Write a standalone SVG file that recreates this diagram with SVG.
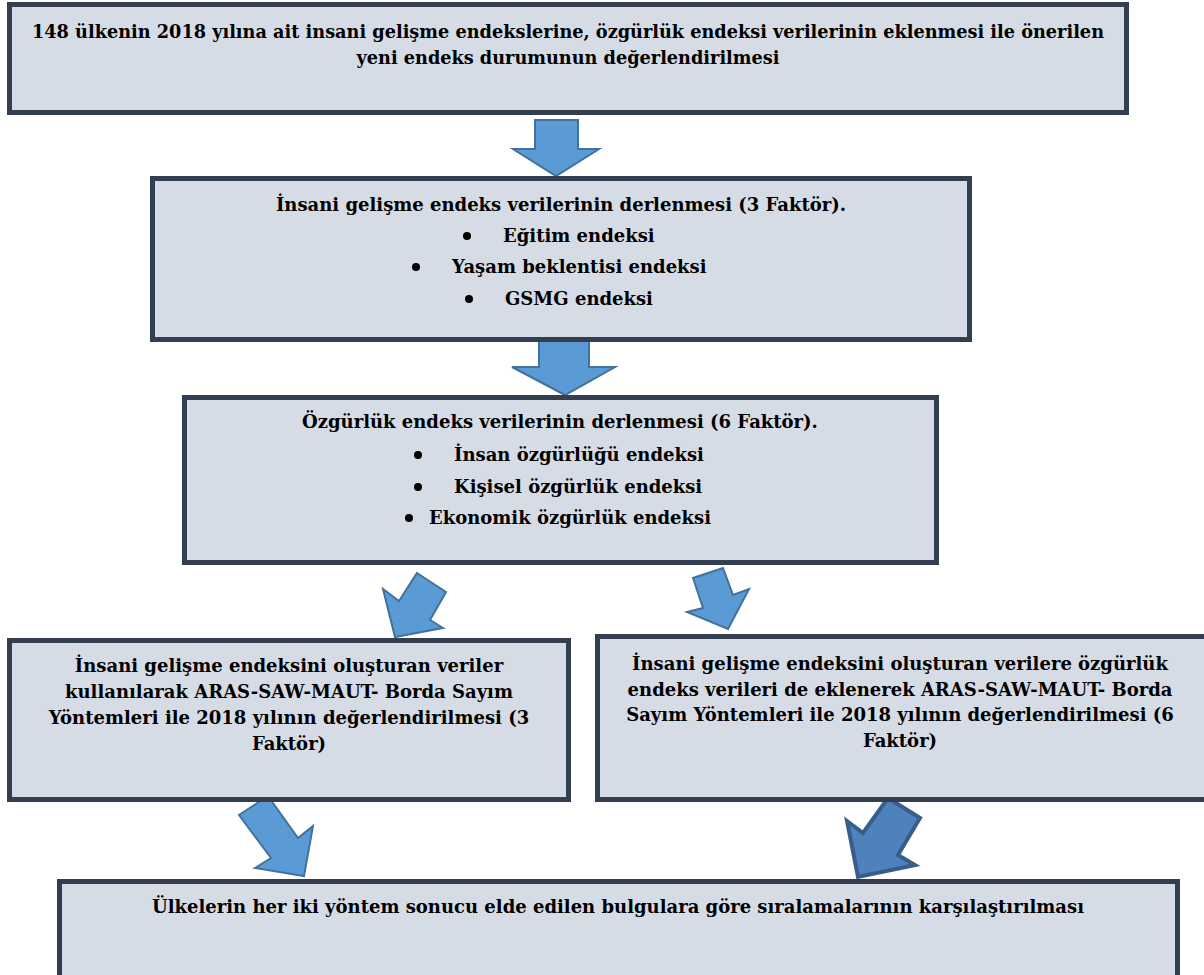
<svg xmlns="http://www.w3.org/2000/svg" width="1204" height="975" viewBox="0 0 1204 975">
<style>
.box{fill:#d6dce5;stroke:#333f50;stroke-width:5}
.t{font-family:"DejaVu Serif","Liberation Serif",serif;font-weight:bold;font-size:18px;fill:#000;text-anchor:middle}
.h{font-size:17.7px}
.tl{font-family:"DejaVu Serif","Liberation Serif",serif;font-weight:bold;font-size:18px;fill:#000}
.b{fill:#000}
.arr{fill:#5b9bd5;stroke:#41719c;stroke-width:2;stroke-linejoin:miter}
.arr2{fill:#4f81bd;stroke:#385d8a;stroke-width:4;stroke-linejoin:miter}
</style>
<rect width="1204" height="975" fill="#fff"/>
<g id="connectors">
<polygon class="arr" points="535,120 578,120 578,149 599,149 556,176 513,149 535,149"/>
<polygon class="arr" points="539,340 589,340 589,367 615,367 565,395 512,367 539,367"/>
<polygon class="arr" points="417,573 446,592 430,620 443,628 395,637 383,589 399,601"/>
<polygon class="arr" points="693,578 723,568 733,595 749,589 728,629 687,612 703,608"/>
<polygon class="arr" points="239,815 268,796 298,838 313,826 304,876 255,868 271,858"/>
<polygon class="arr2" points="847,821 863,833 888,798 920,818 898,855 915,865 858,877"/>
</g>
<g id="n1">
<rect class="box" x="9.5" y="4.5" width="1117" height="108"/>
<text class="t h" x="568" y="38">148 ülkenin 2018 yılına ait insani gelişme endekslerine, özgürlük endeksi verilerinin eklenmesi ile önerilen</text>
<text class="t h" x="568" y="64">yeni endeks durumunun değerlendirilmesi</text>
</g>
<g id="n2">
<rect class="box" x="152.5" y="178.5" width="817" height="161"/>
<text class="t" x="561" y="211">İnsani gelişme endeks verilerinin derlenmesi (3 Faktör).</text>
<circle class="b" cx="467" cy="236" r="4"/>
<text class="tl" x="503" y="242">Eğitim endeksi</text>
<circle class="b" cx="416" cy="267" r="4"/>
<text class="tl" x="452" y="273">Yaşam beklentisi endeksi</text>
<circle class="b" cx="469" cy="299" r="4"/>
<text class="tl" x="505" y="305">GSMG endeksi</text>
</g>
<g id="n3">
<rect class="box" x="184.5" y="397.5" width="752" height="165"/>
<text class="t" x="560" y="428">Özgürlük endeks verilerinin derlenmesi (6 Faktör).</text>
<circle class="b" cx="418" cy="455" r="4"/>
<text class="tl" x="454" y="461">İnsan özgürlüğü endeksi</text>
<circle class="b" cx="418" cy="487" r="4"/>
<text class="tl" x="454" y="493">Kişisel özgürlük endeksi</text>
<circle class="b" cx="409" cy="518" r="4"/>
<text class="tl" x="429" y="524">Ekonomik özgürlük endeksi</text>
</g>
<g id="n4">
<rect class="box" x="9.5" y="640.5" width="559" height="159"/>
<text class="t" x="289" y="672">İnsani gelişme endeksini oluşturan veriler</text>
<text class="t" x="289" y="698">kullanılarak ARAS-SAW-MAUT- Borda Sayım</text>
<text class="t" x="289" y="724">Yöntemleri ile 2018 yılının değerlendirilmesi (3</text>
<text class="t" x="289" y="750">Faktör)</text>
</g>
<g id="n5">
<rect class="box" x="597.5" y="636.5" width="610" height="163"/>
<text class="t" x="900" y="670">İnsani gelişme endeksini oluşturan verilere özgürlük</text>
<text class="t" x="900" y="696">endeks verileri de eklenerek ARAS-SAW-MAUT- Borda</text>
<text class="t" x="900" y="721">Sayım Yöntemleri ile 2018 yılının değerlendirilmesi (6</text>
<text class="t" x="900" y="747">Faktör)</text>
</g>
<g id="n6">
<rect class="box" x="59.5" y="881.5" width="1118" height="110"/>
<text class="t" x="618" y="913">Ülkelerin her iki yöntem sonucu elde edilen bulgulara göre sıralamalarının karşılaştırılması</text>
</g>
</svg>
